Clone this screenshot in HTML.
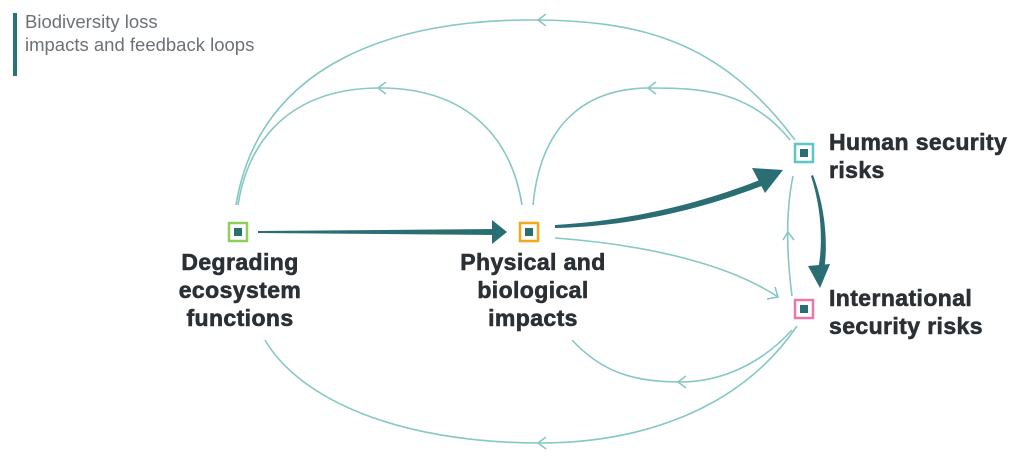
<!DOCTYPE html>
<html><head><meta charset="utf-8"><style>
html,body{margin:0;padding:0;background:#fff;width:1024px;height:462px;overflow:hidden;font-family:"Liberation Sans",sans-serif}
.t{position:absolute;font-weight:bold;color:#2b3035;font-size:23px;line-height:28px;letter-spacing:0.4px;-webkit-text-stroke:0.6px #2b3035}
</style></head><body>
<div style="position:absolute;left:13px;top:13px;width:4px;height:63px;background:#2a7478"></div>
<div style="position:absolute;left:25px;top:10px;font-size:18.5px;line-height:23px;color:#6b7177">Biodiversity loss<br>impacts and feedback loops</div>
<svg width="1024" height="462" style="position:absolute;left:0;top:0">
<g fill="none" stroke="#86c8c3" stroke-width="1.6">
<path d="M795 140 C720 40 640 20 530 20 C400 20 260 60 236 205"/>
<path d="M790 140 C750 90 700 88 650 88 C580 88 540 130 533 205"/>
<path d="M522 205 C510 130 460 88 380 88 C300 88 250 130 238 205"/>
<path d="M797 326 C740 410 640 443 540 443 C400 443 300 400 265 340"/>
<path d="M792 330 C760 365 720 382 680 382 C630 382 600 370 572 340"/>
<path d="M555 238 C650 245 730 265 778 297"/>
<path d="M792 296 C786 250 786 210 793 176"/>
<polyline points="546,14 538,20 546,26"/>
<polyline points="386,82 378,88 386,94"/>
<polyline points="656,82 648,88 656,94"/>
<polyline points="546,437 538,443 546,449"/>
<polyline points="686,376 678,382 686,388"/>
<polyline points="767,299 778,297 775,287"/>
<polyline points="783,240 788,232 794,240"/>
</g>
<g fill="#2a6e74">
<path d="M258 231 L495 229 L495 235 L258 233 Z"/>
<path d="M492 220 L507 232 L492 244 Z"/>
<path d="M555 225 C640 220 710 200 765 178 L767 184 C710 206 640 226 555 228 Z"/>
<path d="M752 168 L783 170 L765 193 Z"/>
<path d="M811 176 C822 210 823 245 818 270 L824 271 C828 245 826 210 813 175 Z"/>
<path d="M808 266 L820 288 L830 264 Z"/>
</g>
<rect x="229" y="223" width="18" height="18" fill="#fff" stroke="#8ccf5a" stroke-width="2.5"/>
<rect x="234" y="228" width="8" height="8" fill="#2a6e74"/>
<rect x="520" y="223" width="18" height="18" fill="#fff" stroke="#f0a81c" stroke-width="2.5"/>
<rect x="525" y="228" width="8" height="8" fill="#2a6e74"/>
<rect x="795" y="144" width="18" height="18" fill="#fff" stroke="#5cc6c8" stroke-width="2.5"/>
<rect x="800" y="149" width="8" height="8" fill="#2a6e74"/>
<rect x="795" y="300" width="18" height="18" fill="#fff" stroke="#e879a8" stroke-width="2.5"/>
<rect x="800" y="305" width="8" height="8" fill="#2a6e74"/>
</svg>
<div class="t" style="left:140px;top:248px;width:200px;text-align:center">Degrading<br>ecosystem<br>functions</div>
<div class="t" style="left:433px;top:248px;width:200px;text-align:center">Physical and<br>biological<br>impacts</div>
<div class="t" style="left:829px;top:128px">Human security<br>risks</div>
<div class="t" style="left:829px;top:284px">International<br>security risks</div>
</body></html>
